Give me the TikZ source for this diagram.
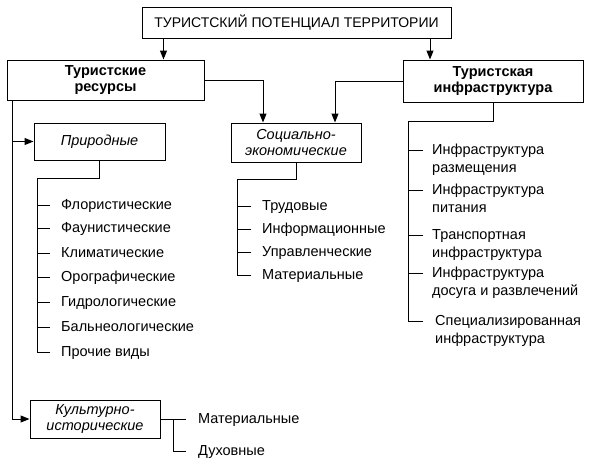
\documentclass[tikz,border=0pt]{standalone}
\usepackage{fontspec}
\setmainfont{Liberation Sans}
\usetikzlibrary{arrows.meta}
\tikzstyle{box} = [rectangle, draw=black, line width=1pt, inner sep=0pt, align=center, font=\fontsize{14.5}{16}\selectfont]
\tikzstyle{mainbox} = [box, font=\fontsize{14.5}{16}\selectfont\bfseries]
\tikzstyle{kindbox} = [box, font=\fontsize{14.5}{16}\selectfont\itshape]
\tikzstyle{item} = [anchor=base west, inner ysep=0pt, inner xsep=11pt, align=left, font=\fontsize{14.5}{18}\selectfont]
\tikzstyle{line} = [line width=1pt]
\tikzstyle{arrow} = [line width=1pt, -{Triangle[length=9pt,width=7pt]}]

\begin{document}
\begin{tikzpicture}[x=1pt, y=-1pt]
\useasboundingbox (0,0) rectangle (597,469);
\node (top) [box, font=\fontsize{14}{16}\selectfont, minimum width=309pt, minimum height=31pt] at (296.5,22.5) {ТУРИСТСКИЙ ПОТЕНЦИАЛ ТЕРРИТОРИИ};
\node (res) [mainbox, minimum width=197pt, minimum height=40pt] at (105.5,80) {Туристские\\ресурсы};
\node (infra) [mainbox, minimum width=180pt, minimum height=42pt] at (493,81) {Туристская\\инфраструктура};
\node (nat) [kindbox, minimum width=131pt, minimum height=37pt] at (99.5,141.5) {Природные};
\node (soc) [kindbox, minimum width=130pt, minimum height=39pt] at (296,142.5) {Социально-\\экономические};
\node (cult) [kindbox, minimum width=130pt, minimum height=38pt] at (95,419) {Культурно-\\исторические};

% природные
\node (n1) [item] at (50,209) {Флористические};
\node (n2) [item] at (50,232) {Фаунистические};
\node (n3) [item] at (50,257) {Климатические};
\node (n4) [item] at (50,281) {Орографические};
\node (n5) [item] at (50,306) {Гидрологические};
\node (n6) [item] at (50,331) {Бальнеологические};
\node (n7) [item] at (50,356) {Прочие виды};

% социально-экономические
\node (s1) [item] at (251,210) {Трудовые};
\node (s2) [item] at (251,233) {Информационные};
\node (s3) [item] at (251,256) {Управленческие};
\node (s4) [item] at (251,279) {Материальные};

% инфраструктура (base = second line)
\node (i1) [item, inner xsep=9pt] at (423,172) {Инфраструктура\\размещения};
\node (i2) [item, inner xsep=9pt] at (423,212) {Инфраструктура\\питания};
\node (i3) [item, inner xsep=9pt] at (423,257) {Транспортная\\инфраструктура};
\node (i4) [item, inner xsep=9pt] at (423,295) {Инфраструктура\\досуга и развлечений};
\node (i5) [item, inner xsep=12pt] at (423,343) {Специализированная\\инфраструктура};

% культурно-исторические
\node (c1) [item, inner xsep=12pt] at (186,423) {Материальные};
\node (c2) [item, inner xsep=12pt] at (186,455) {Духовные};

\coordinate (rs) at ([xshift=6pt]res.south west);
\coordinate (nsp) at (37,178);
\coordinate (ssp) at (237,179);
\coordinate (isp) at (408,121);

\draw [arrow] ([xshift=-133pt]top.south) -- ([xshift=-133pt]top.south |- res.north);
\draw [arrow] ([xshift=133.5pt]top.south) -- ([xshift=133.5pt]top.south |- infra.north);
\draw [arrow] (res.east) -| ([xshift=-33pt]soc.north);
\draw [arrow] (infra.west) -| ([xshift=39pt]soc.north);
\draw [arrow] (rs) |- (cult.west);
\draw [arrow] (nat.west -| rs) -- (nat.west);

\draw [line] (nat.south) |- (nsp);
\draw [line] ([yshift=4pt]n1.base west) -- ([yshift=4pt]n1.base west -| nsp);
\draw [line] ([yshift=4pt]n2.base west) -- ([yshift=4pt]n2.base west -| nsp);
\draw [line] ([yshift=4pt]n3.base west) -- ([yshift=4pt]n3.base west -| nsp);
\draw [line] ([yshift=4pt]n4.base west) -- ([yshift=4pt]n4.base west -| nsp);
\draw [line] ([yshift=4pt]n5.base west) -- ([yshift=4pt]n5.base west -| nsp);
\draw [line] ([yshift=4pt]n6.base west) -- ([yshift=4pt]n6.base west -| nsp);
\draw [line] ([yshift=4pt]n7.base west) -| (nsp);

\draw [line] (soc.south) |- (ssp);
\draw [line] ([yshift=4pt]s1.base west) -- ([yshift=4pt]s1.base west -| ssp);
\draw [line] ([yshift=4pt]s2.base west) -- ([yshift=4pt]s2.base west -| ssp);
\draw [line] ([yshift=4pt]s3.base west) -- ([yshift=4pt]s3.base west -| ssp);
\draw [line] ([yshift=4pt]s4.base west) -| (ssp);

\draw [line] (infra.south) |- (isp);
\draw [line] ([yshift=22pt]i1.base west) -- ([yshift=22pt]i1.base west -| isp);
\draw [line] ([yshift=22pt]i2.base west) -- ([yshift=22pt]i2.base west -| isp);
\draw [line] ([yshift=22pt]i3.base west) -- ([yshift=22pt]i3.base west -| isp);
\draw [line] ([yshift=22pt]i4.base west) -- ([yshift=22pt]i4.base west -| isp);
\draw [line] ([yshift=22pt]i5.base west) -| (isp);

\draw [line] (cult.east) -- ([yshift=4pt]c1.base west);
\draw [line] ([xshift=13pt]cult.east) |- ([yshift=4pt]c2.base west);
\end{tikzpicture}
\end{document}
